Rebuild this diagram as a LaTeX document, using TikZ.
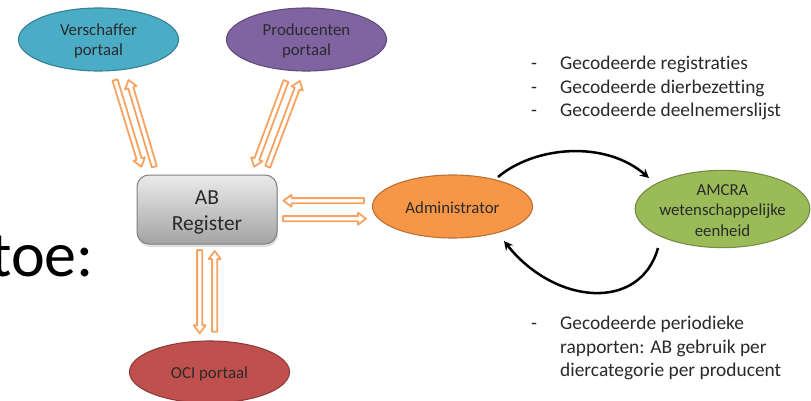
\documentclass[tikz,border=0pt]{standalone}
\usepackage{fontspec}
\setmainfont[Ligatures=NoCommon]{Carlito}
\usetikzlibrary{calc,arrows.meta,shapes.geometric}
\definecolor{hollowor}{HTML}{F8A362}
\definecolor{txt}{HTML}{2A2A2A}
\definecolor{fa}{RGB}{75,172,198}
\definecolor{fb}{RGB}{128,100,162}
\definecolor{fc}{RGB}{192,80,77}
\definecolor{fd}{RGB}{247,150,70}
\definecolor{fe}{RGB}{155,187,89}
\tikzset{
  portal/.style={ellipse,inner sep=0pt,line width=1.1pt,align=center,text=txt,font=\fontsize{16.8}{20.5}\selectfont,fill=#1,draw=#1!75!black},
  hollowarrow/.style={draw=hollowor,fill=white,line width=1.8pt,line join=round},
  curved/.style={draw=black,line width=2.5pt,-{Stealth[length=9pt,width=9pt]}},
  lijst/.style={anchor=north west,align=left,text=txt,font=\fontsize{19.4}{23.5}\selectfont,inner sep=0pt}
}
\newcommand{\topfix}[1]{\rule{0pt}{#1pt}}
\newcommand{\hollow}[2]{%
  \coordinate (hb) at ($(#2)!8pt!(#1)$);
  \draw[hollowarrow]
    ($(#1)!2.6pt!90:(#2)$) -- ($(hb)!2.6pt!90:(#2)$) -- ($(hb)!6pt!90:(#2)$) -- (#2)
    -- ($(hb)!6pt!-90:(#2)$) -- ($(hb)!2.6pt!-90:(#2)$) -- ($(#1)!2.6pt!-90:(#2)$) -- cycle;}
\begin{document}
\begin{tikzpicture}[x=1pt,y=-1pt]
\useasboundingbox (0,0) rectangle (811,401);
\clip (0,0) rectangle (811,401);
\fill[white] (0,0) rectangle (811,401);
\node[anchor=base west,inner sep=0pt,font=\fontsize{64}{64}\selectfont,text=black] (toe) at (-10,276) {toe:};
\node[portal=fa,minimum width=160pt,minimum height=63pt] (ver) at (98.5,39.5) {\topfix{15}Verschaffer\\portaal};
\node[portal=fb,minimum width=160pt,minimum height=63pt] (pro) at (306.5,39.5) {\topfix{15}Producenten\\portaal};
\node[portal=fc,minimum width=160pt,minimum height=62pt] (oci) at (209.5,372) {\topfix{15}OCI portaal};
\node[portal=fd,minimum width=160pt,minimum height=63pt] (adm) at (452.5,206.5) {\topfix{15}Administrator};
\node[portal=fe,inner xsep=-1.5pt,minimum width=174pt,minimum height=69pt] (amc) at (722.5,209) {\topfix{13.5}AMCRA\\wetenschappelijke\\eenheid};
\fill[black!12,rounded corners=12pt] (138,177) rectangle (278,247);
\shade[top color=black!8,bottom color=black!36,rounded corners=12pt,draw=black!50,line width=1pt] (137,175) rectangle (277,244);
\node[inner sep=0pt,minimum width=140pt,minimum height=69pt,align=center,text=txt,font=\fontsize{21.5}{26}\selectfont] (reg) at (207,212) {AB\\Register};
\coordinate (a1) at (115,80); \coordinate (a2) at (141.5,166.7);
\coordinate (b1) at (154.3,166.7); \coordinate (b2) at (128.5,80);
\coordinate (c1) at (286,81); \coordinate (c2) at (254,166.7);
\coordinate (d1) at (267.7,166.7); \coordinate (d2) at (300,81);
\coordinate (e1) at (364,200.7); \coordinate (e2) at (283.5,200.7);
\coordinate (f1) at (283,218.7); \coordinate (f2) at (366,218.7);
\coordinate (g1) at (199.7,250); \coordinate (g2) at (199.7,333.3);
\coordinate (h1) at (214.7,331.7); \coordinate (h2) at (214.7,251);
\hollow{a1}{a2}\hollow{b1}{b2}\hollow{c1}{c2}\hollow{d1}{d2}
\hollow{e1}{e2}\hollow{f1}{f2}\hollow{g1}{g2}\hollow{h1}{h2}
\coordinate (t1) at (498,177); \coordinate (t2) at (649,178);
\coordinate (u1) at (658,248); \coordinate (u2) at (504,241);
\draw[curved] (t1) .. controls (535,146) and (605,140) .. (t2);
\draw[curved] (u1) .. controls (640,312) and (555,305) .. (u2);
\node[lijst] (m1) at (531,53) {\strut-\\-\\-};
\node[lijst] (l1) at (560,53) {\strut Gecodeerde registraties\\Gecodeerde dierbezetting\\Gecodeerde deelnemerslijst};
\node[lijst] (m2) at (531,313) {\strut-};
\node[lijst] (l2) at (560,313) {\strut Gecodeerde periodieke\\rapporten: AB gebruik per\\diercategorie per producent};
\end{tikzpicture}
\end{document}
